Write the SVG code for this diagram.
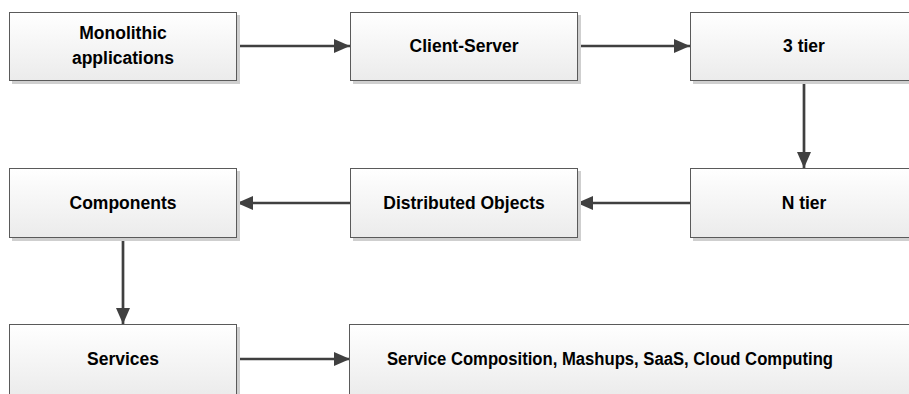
<svg xmlns="http://www.w3.org/2000/svg" width="909" height="394" viewBox="0 0 909 394">
<defs>
<linearGradient id="g" x1="0" y1="0" x2="0" y2="1">
<stop offset="0" stop-color="#ffffff"/>
<stop offset="1" stop-color="#ebebeb"/>
</linearGradient>
<marker id="ah" viewBox="0 0 16 14" refX="16" refY="7" markerWidth="16" markerHeight="14" markerUnits="userSpaceOnUse" orient="auto">
<path d="M0,0 L16,7 L0,14 Z" fill="#404040"/>
</marker>
</defs>
<style>
.sh{fill:#cfcfcf}
.bx{fill:url(#g);stroke:#5a5a5a;stroke-width:1}
.t{font-family:"Liberation Sans",Arial,sans-serif;font-weight:bold;font-size:17.5px;fill:#000;text-anchor:middle}
.c{stroke:#404040;stroke-width:2.7;fill:none;marker-end:url(#ah)}
</style>
<g id="connectors">
<path class="c" d="M237,46 H350"/>
<path class="c" d="M577,46 H690"/>
<path class="c" d="M804,81 V168"/>
<path class="c" d="M690,203 H577"/>
<path class="c" d="M350,203 H237"/>
<path class="c" d="M123,238 V324"/>
<path class="c" d="M237,359 H350"/>
</g>
<g id="n1"><rect class="sh" x="12" y="15" width="228" height="69"/><rect class="bx" x="9.5" y="12.5" width="227" height="68"/>
<text class="t" x="123" y="39">Monolithic</text><text class="t" x="123" y="64">applications</text></g>
<g id="n2"><rect class="sh" x="353" y="15" width="228" height="69"/><rect class="bx" x="350.5" y="12.5" width="227" height="68"/>
<text class="t" x="464" y="52">Client-Server</text></g>
<g id="n3"><rect class="sh" x="693" y="15" width="228" height="69"/><rect class="bx" x="690.5" y="12.5" width="227" height="68"/>
<text class="t" x="804" y="52">3 tier</text></g>
<g id="n4"><rect class="sh" x="693" y="171" width="228" height="70"/><rect class="bx" x="690.5" y="168.5" width="227" height="69"/>
<text class="t" x="804" y="209">N tier</text></g>
<g id="n5"><rect class="sh" x="353" y="171" width="228" height="70"/><rect class="bx" x="350.5" y="168.5" width="227" height="69"/>
<text class="t" x="464" y="209">Distributed Objects</text></g>
<g id="n6"><rect class="sh" x="12" y="171" width="228" height="70"/><rect class="bx" x="9.5" y="168.5" width="227" height="69"/>
<text class="t" x="123" y="209">Components</text></g>
<g id="n7"><rect class="sh" x="12" y="327" width="228" height="70"/><rect class="bx" x="9.5" y="324.5" width="227" height="72"/>
<text class="t" x="123" y="365">Services</text></g>
<g id="n8"><rect class="sh" x="352" y="327" width="570" height="70"/><rect class="bx" x="349.5" y="324.5" width="570" height="72"/>
<text class="t" x="610" y="365" textLength="446" lengthAdjust="spacingAndGlyphs">Service Composition, Mashups, SaaS, Cloud Computing</text></g>
</svg>
